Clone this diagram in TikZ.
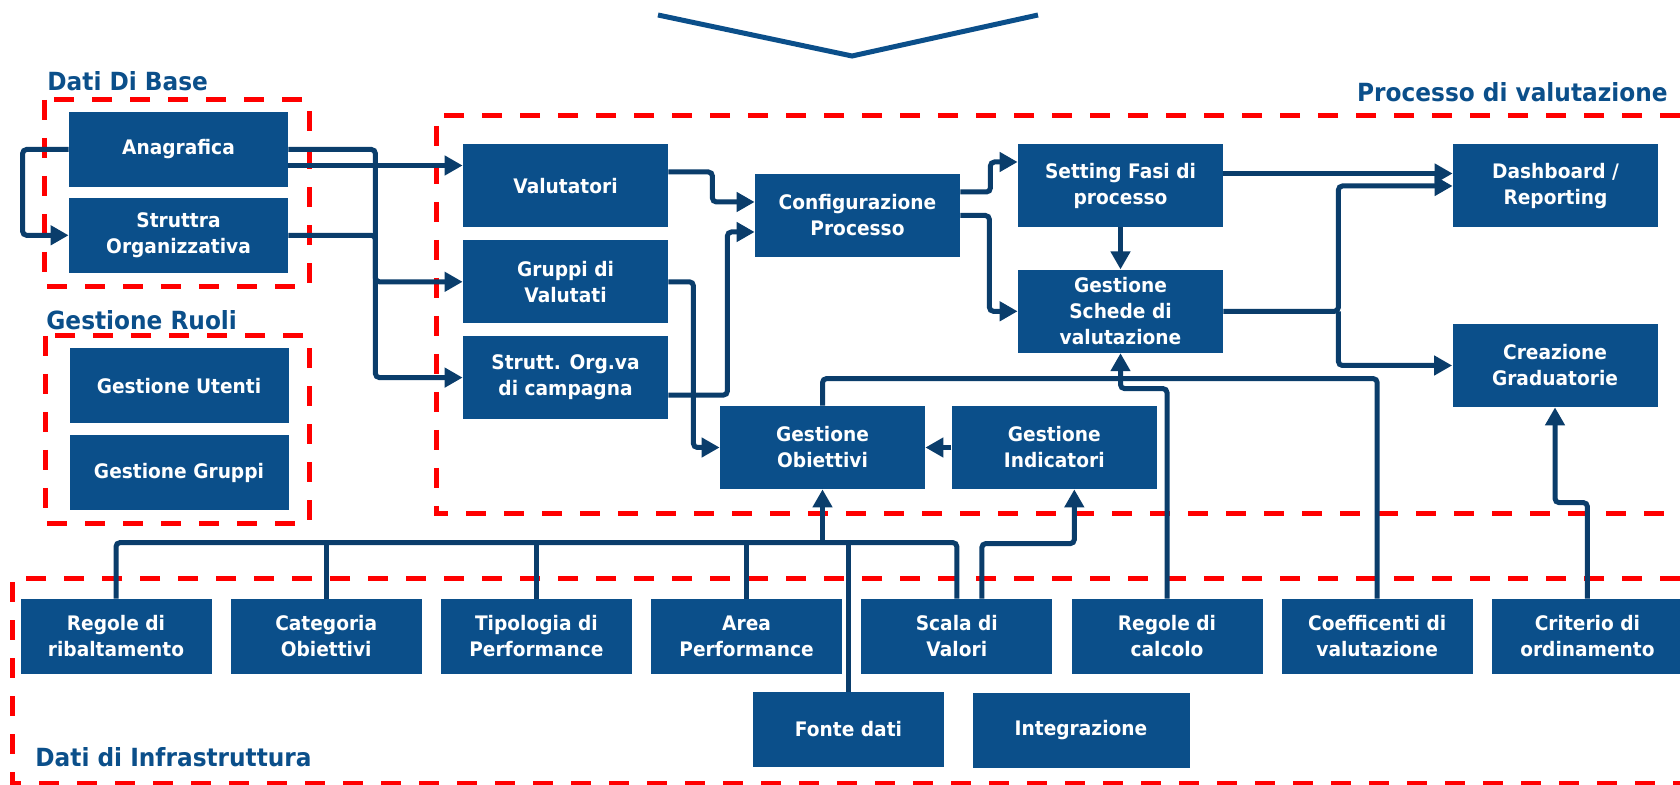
\documentclass[tikz,border=0pt]{standalone}
\usepackage{fontspec}
\setmainfont{DejaVu Sans}[FakeStretch=0.93]
\usepackage{tikz}
\usetikzlibrary{arrows.meta,positioning,calc}
\usepackage{xcolor}
\definecolor{boxblue}{HTML}{0B4F8A}
\definecolor{linkblue}{HTML}{0A3D6B}
\definecolor{dashred}{HTML}{FF0000}

\begin{document}
\begin{tikzpicture}[x=0.5pt,y=-0.5pt,>={Triangle[length=9pt,width=9.5pt]},
    box/.style={fill=boxblue,text=white,font=\fontsize{10}{13}\selectfont\bfseries,align=center,inner sep=0pt},
    big/.style={box,minimum width=109.5pt,minimum height=37.5pt},
    mid/.style={box,minimum width=102.5pt,minimum height=41.5pt},
    low/.style={box,minimum width=95.5pt,minimum height=37.5pt},
    title/.style={text=boxblue,font=\fontsize{12.5}{15}\selectfont\bfseries,inner sep=0pt},
    area/.style={draw=dashred,line width=2.5pt,dash pattern=on 10pt off 9pt}]
  \path[use as bounding box,fill=white] (0,0) rectangle (1680,785);

  % dashed areas
  \draw[area] (44,100) rectangle (309,287);
  \draw[area] (45,336) rectangle (309,524);
  \draw[area] (1680,116) -- (436,116) -- (436,514) -- (1680,514);
  \draw[area] (1680,578) -- (12,578) -- (12,783) -- (1680,783);

  \node[title,anchor=west]  (tbase)  at (47,81)    {Dati Di Base};
  \node[title,anchor=west]  (truoli) at (46,320)   {Gestione Ruoli};
  \node[title,anchor=east]  (tproc)  at (1668,92)  {Processo di valutazione};
  \node[title,anchor=west]  (tinfra) at (35,757)   {Dati di Infrastruttura};

  \draw[line width=2.5pt,boxblue] (658,15) -- (852,56) -- (1038,15);

  % dati di base / ruoli
  \node[big] (ana)                    at (178.5,149.5) {Anagrafica};
  \node[big] (str) [below=5pt of ana]                  {Struttra\\Organizzativa};
  \node[big] (ute)                    at (179,386)     {Gestione Utenti};
  \node[big] (grp) [below=5.5pt of ute]                {Gestione Gruppi};

  % processo
  \node[mid] (val)                    at (565.5,186)   {Valutatori};
  \node[mid] (gva) [below=6pt of val]                  {Gruppi di\\Valutati};
  \node[mid] (sog) [below=6pt of gva]                  {Strutt. Org.va\\di campagna};
  \node[mid] (conf)                   at (857.5,215.5) {Configurazione\\Processo};
  \node[mid] (set)                    at (1120.5,185.5) {Setting Fasi di\\processo};
  \node[mid] (sch) [below=21pt of set]                 {Gestione\\Schede di\\valutazione};
  \node[mid] (dash)                   at (1555.5,186)  {Dashboard /\\Reporting};
  \node[mid] (grad)                   at (1555,365.5)  {Creazione\\Graduatorie};
  \node[mid] (obi)                    at (822.5,447.5) {Gestione\\Obiettivi};
  \node[mid] (ind) [right=13pt of obi]                 {Gestione\\Indicatori};

  % infrastruttura
  \node[low] (rib)                    at (116,636.5)   {Regole di\\ribaltamento};
  \node[low] (cat) [right=9.2pt of rib]                {Categoria\\Obiettivi};
  \node[low] (tip) [right=9.2pt of cat]                {Tipologia di\\Performance};
  \node[low] (are) [right=9.2pt of tip]                {Area\\Performance};
  \node[low] (sca) [right=9.2pt of are]                {Scala di\\Valori};
  \node[low] (cal) [right=9.2pt of sca]                {Regole di\\calcolo};
  \node[low] (coe) [right=9.2pt of cal]                {Coefficenti di\\valutazione};
  \node[low] (cri) [right=9.2pt of coe]                {Criterio di\\ordinamento};
  \node[low] (fon)                    at (848.5,729.5) {Fonte dati};
  \node[low,minimum width=108.5pt] (int) at (1081,730) {Integrazione};

  \tikzset{conn/.style={draw=linkblue,line width=2.5pt,rounded corners=2pt}}

  \draw[conn,->] (ana.west) -- ++(-46,0) |- (str.west);
  \draw[conn,->] (ana.east) -- ++(87,0) |- (sog.west);
  \draw[conn,->] ($(ana.east)+(0,16)$) coordinate (a1) -- (a1 -| val.west);
  \draw[conn,->] (str.east) -- ++(87,0) |- (gva.west);
  \draw[conn,->] ($(val.east)+(0,-14)$) -- ++(44,0) |- ($(conf.west)+(0,-13.5)$);
  \draw[conn,->] ($(sog.east)+(0,17.5)$) -- ++(59,0) |- ($(conf.west)+(0,16.5)$);
  \draw[conn,->] (gva.east) -- ++(25,0) |- (obi.west);
  \draw[conn,->] ($(conf.east)+(0,-23.5)$) -- ++(30,0) |- ($(set.west)+(0,-23.5)$);
  \draw[conn,->] (conf.east) -- ++(29,0) |- (sch.west);
  \draw[conn,->] (set.south) -- (sch.north);
  \draw[conn,->] ($(set.east)+(0,-12)$) coordinate (s1) -- (s1 -| dash.west);
  \draw[conn,->] (sch.east) -- ++(115,0) coordinate (s2) |- (dash.west);
  \draw[conn,->] (s2) |- (grad.west);
  \draw[conn,->] (ind.west) -- (obi.east);
  \draw[conn] (obi.north) -- ++(0,-27) -| (coe.north);
  \draw[conn,->] (cal.north) -- ++(0,-210) -| (sch.south);

  \draw[conn] (rib.north) -- ++(0,-56) coordinate (bus) -| (sca.north);
  \draw[conn] (cat.north) -- (cat.north |- bus);
  \draw[conn] (tip.north) -- (tip.north |- bus);
  \draw[conn] (are.north) -- (are.north |- bus);
  \draw[conn] (fon.north) -- (fon.north |- bus);
  \draw[conn,->] (bus -| obi.south) -- (obi.south);
  \draw[conn,->] ($(sca.north)+(25,0)$) -- ++(0,-55) -| ($(ind.south)+(20,0)$);
  \draw[conn,->] (cri.north) -- ++(0,-96) -| (grad.south);
\end{tikzpicture}
\end{document}
